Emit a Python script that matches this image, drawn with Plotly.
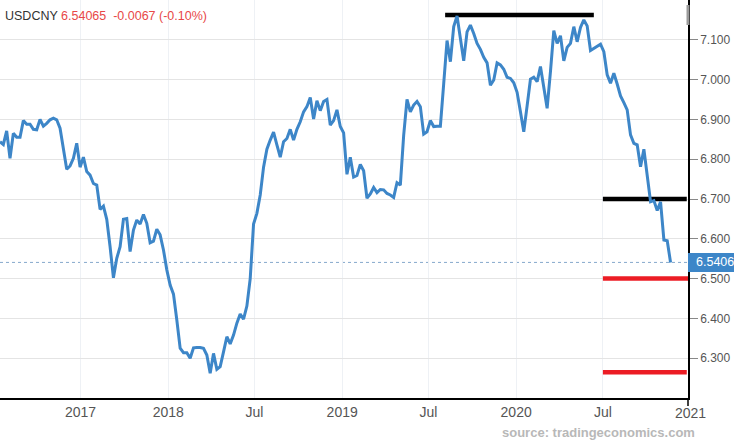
import plotly.graph_objects as go
import pandas as pd

# ---------------- data ----------------
symbol = "USDCNY"
start_date = "2017-01-13"          # first weekly close shown
usdcny = [
    6.844, 6.837, 6.871, 6.802, 6.865, 6.855, 6.855, 6.897, 6.888, 6.888,
    6.875, 6.874, 6.900, 6.883, 6.890, 6.899, 6.903, 6.899, 6.878, 6.823,
    6.775, 6.783, 6.802, 6.840, 6.780, 6.805, 6.769, 6.760, 6.739, 6.735,
    6.674, 6.682, 6.649, 6.580, 6.502, 6.551, 6.580, 6.649, 6.651, 6.568,
    6.622, 6.647, 6.637, 6.661, 6.639, 6.590, 6.594, 6.624, 6.610, 6.572,
    6.522, 6.484, 6.461, 6.396, 6.325, 6.314, 6.314, 6.300, 6.326, 6.327,
    6.327, 6.325, 6.308, 6.262, 6.312, 6.272, 6.279, 6.316, 6.354, 6.336,
    6.358, 6.388, 6.411, 6.398, 6.431, 6.500, 6.637, 6.664, 6.710, 6.780,
    6.825, 6.848, 6.868, 6.836, 6.805, 6.844, 6.852, 6.875, 6.848, 6.875,
    6.894, 6.919, 6.932, 6.955, 6.901, 6.947, 6.922, 6.945, 6.950, 6.886,
    6.897, 6.924, 6.882, 6.866, 6.762, 6.805, 6.755, 6.759, 6.787, 6.771,
    6.702, 6.713, 6.729, 6.716, 6.724, 6.723, 6.714, 6.710, 6.704, 6.741,
    6.735, 6.860, 6.950, 6.919, 6.936, 6.945, 6.932, 6.863, 6.869, 6.897,
    6.882, 6.883, 6.883, 6.990, 7.098, 7.045, 7.133, 7.160, 7.108, 7.047,
    7.120, 7.137, 7.116, 7.091, 7.076, 7.056, 7.042, 6.986, 6.999, 7.042,
    7.037, 7.026, 7.006, 7.003, 6.992, 6.968, 6.919, 6.869, 6.934, 7.001,
    7.006, 6.995, 7.033, 6.982, 6.928, 7.020, 7.123, 7.091, 7.110, 7.047,
    7.081, 7.091, 7.133, 7.095, 7.131, 7.150, 7.135, 7.073, 7.079, 7.083,
    7.089, 7.070, 7.012, 6.991, 7.016, 6.989, 6.959, 6.942, 6.924, 6.861,
    6.840, 6.836, 6.781, 6.825, 6.756, 6.693, 6.696, 6.671, 6.693, 6.597,
    6.595, 6.54065,
]
dates = pd.date_range(start_date, periods=len(usdcny), freq="7D")

last_value = 6.54065
last_label = "6.5406"
change = "-0.0067"
change_pct = "(-0.10%)"

# support / resistance levels drawn on the chart
level_values = [7.162, 6.70, 6.50, 6.265]
level_starts = ["2019-08-05", "2020-07-01", "2020-07-01", "2020-07-01"]
level_ends = ["2020-06-12", "2020-12-24", "2020-12-28", "2020-12-24"]
level_kinds = ["resistance", "resistance", "support", "support"]

x_tick_vals = ["2017-07-01", "2018-01-01", "2018-07-01", "2019-01-01",
               "2019-07-01", "2020-01-01", "2020-07-01"]
x_tick_text = ["2017", "2018", "Jul", "2019", "Jul", "2020", "Jul"]
x_end_label = "2021"
y_tick_vals = [6.3, 6.4, 6.5, 6.6, 6.7, 6.8, 6.9, 7.0, 7.1]
x_range = ["2017-01-13", "2020-12-26 14:00"]
y_range = [6.2, 7.2]
source_text = "source: tradingeconomics.com"

# ---------------- styles ----------------
W, H = 734, 445
M_L, M_R, M_T, M_B = 0, 46, 0, 47
PLOT_W = W - M_L - M_R
PLOT_H = H - M_T - M_B
BLUE = "#3d86c8"
RED = "#ec1c24"
LABEL_GREY = "#555555"
NARROW = "Liberation Sans Narrow, Arial Narrow, Liberation Sans, Arial, sans-serif"
SANS = "Liberation Sans, Arial, sans-serif"
kind_color = {"resistance": "#000000", "support": RED}

fig = go.Figure()

for v, s, e, k in zip(level_values, level_starts, level_ends, level_kinds):
    fig.add_trace(go.Scatter(
        x=[s, e], y=[v, v], mode="lines",
        line=dict(color=kind_color[k], width=4.5),
        hoverinfo="skip", showlegend=False,
    ))

fig.add_trace(go.Scatter(
    x=dates, y=usdcny, mode="lines",
    line=dict(color=BLUE, width=3),
    showlegend=False,
))

y_frac = (last_value - y_range[0]) / (y_range[1] - y_range[0])

shapes = [
    # dotted last-value line
    dict(type="line", xref="paper", yref="y", x0=0, x1=1,
         y0=last_value, y1=last_value,
         line=dict(color="#86a9cc", width=1, dash="dot"), layer="below"),
    # last value box
    dict(type="rect", xref="paper", yref="paper",
         x0=1.0, x1=(W - M_L) / PLOT_W,
         y0=y_frac - 9.5 / PLOT_H, y1=y_frac + 9.5 / PLOT_H,
         fillcolor="#3d86c8", line=dict(width=0), layer="above"),
    # grey marker on top of right axis
    dict(type="line", xref="paper", yref="paper", x0=1, x1=1,
         y0=1 - 5 / PLOT_H, y1=1 - 25 / PLOT_H,
         line=dict(color="#9a9a9a", width=3)),
    # axis corner extension
    dict(type="line", xref="paper", yref="paper", x0=1, x1=1,
         y0=0, y1=-8 / PLOT_H, line=dict(color="#000", width=1.5)),
]

annotations = [
    dict(xref="paper", yref="paper", x=3 / PLOT_W, y=1 - 16 / PLOT_H,
         xanchor="left", yanchor="middle", showarrow=False,
         text=(f"<span style='color:#333333'>{symbol}</span> "
               f"<span style='color:#e84848'>{last_value}&nbsp;&nbsp;"
               f"{change} {change_pct}</span>"),
         font=dict(family=SANS, size=12.5)),
    dict(xref="paper", yref="paper",
         x=694 / PLOT_W, y=y_frac,
         xanchor="left", yanchor="middle", showarrow=False,
         bgcolor="#3d86c8", borderpad=1,
         text=last_label, font=dict(family=SANS, size=12.5, color="white")),
    dict(xref="paper", yref="paper", x=691 / PLOT_W, y=-15 / PLOT_H,
         xanchor="center", yanchor="middle", showarrow=False,
         text=x_end_label, font=dict(family=NARROW, size=14, color=LABEL_GREY)),
    dict(xref="paper", yref="paper", x=697 / PLOT_W, y=-34 / PLOT_H,
         xanchor="right", yanchor="middle", showarrow=False,
         text=f"<b>{source_text}</b>",
         font=dict(family=SANS, size=13, color="#b8b8b8")),
]

fig.update_layout(
    width=W, height=H,
    margin=dict(l=M_L, r=M_R, t=M_T, b=M_B, autoexpand=False),
    paper_bgcolor="white", plot_bgcolor="white",
    shapes=shapes, annotations=annotations,
    xaxis=dict(
        type="date", range=x_range,
        tickvals=x_tick_vals, ticktext=x_tick_text,
        showgrid=True, gridcolor="#eef1f5", gridwidth=1,
        showline=True, linecolor="#000", linewidth=1.5,
        ticks="", zeroline=False,
        tickfont=dict(family=NARROW, size=14, color=LABEL_GREY),
        fixedrange=True,
    ),
    yaxis=dict(
        side="right", range=y_range,
        tickvals=y_tick_vals, tickformat=".3f",
        showgrid=True, gridcolor="#e4e4e4", gridwidth=1,
        showline=True, linecolor="#000", linewidth=1.5,
        ticks="outside", ticklen=8, tickcolor="#888", tickwidth=1,
        zeroline=False,
        tickfont=dict(family=SANS, size=12, color=LABEL_GREY),
        fixedrange=True,
    ),
    hovermode=False,
)

fig.write_html("out.html", config=dict(displayModeBar=False))
